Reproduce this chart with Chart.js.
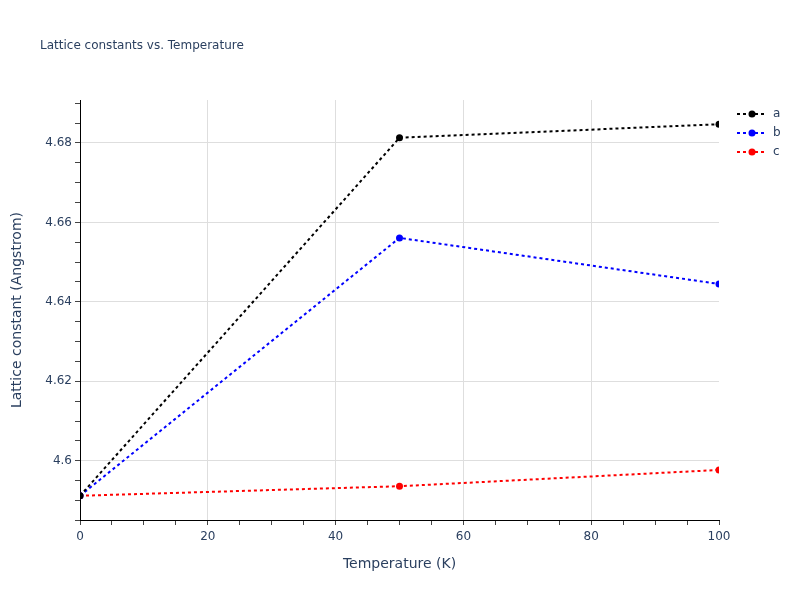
<!DOCTYPE html>
<html>
<head>
<meta charset="utf-8">
<script src="https://cdn.jsdelivr.net/npm/chart.js@4"></script>
<style>
  html, body { margin: 0; padding: 0; background: #fff; }
  canvas { display: block; }
</style>
</head>
<body>
<canvas id="chart" width="800" height="600"></canvas>
<script>
  const temperatures = [0, 50, 100];
  const latticeA = [4.5912, 4.6813, 4.6847];
  const latticeB = [4.5912, 4.6561, 4.6445];
  const latticeC = [4.5912, 4.5936, 4.5977];
  const seriesNames = ["a", "b", "c"];
  const seriesColors = ["#000000", "#0000ff", "#ff0000"];

  const xMajorTicks = [0, 20, 40, 60, 80, 100];
  const yMajorTicks = [4.6, 4.62, 4.64, 4.66, 4.68];

  const ink = "#2a3f5f";
  const fontFamily = "'DejaVu Sans', Verdana, sans-serif";

  function isMajor(list, v) {
    return list.some(function(m) { return Math.abs(m - v) < 1e-6; });
  }

  function makeDataset(name, values, color) {
    return {
      label: name,
      data: temperatures.map(function(t, i) { return { x: t, y: values[i] }; }),
      borderColor: color,
      backgroundColor: color,
      borderWidth: 2,
      borderDash: [3, 3],
      pointRadius: 3.5,
      pointBorderWidth: 0,
      pointBackgroundColor: color,
      tension: 0
    };
  }

  // title + legend drawn in the margins, plotly style
  const decorations = {
    id: "decorations",
    afterDraw: function(chart) {
      const ctx = chart.ctx;
      ctx.save();
      ctx.fillStyle = ink;
      ctx.font = "12px " + fontFamily;
      ctx.textBaseline = "middle";
      ctx.textAlign = "left";
      ctx.fillText("Lattice constants vs. Temperature", 40, 46);

      chart.data.datasets.forEach(function(ds, i) {
        const y = 114 + i * 19;
        ctx.strokeStyle = ds.borderColor;
        ctx.lineWidth = 2;
        ctx.setLineDash([3, 3]);
        ctx.beginPath();
        ctx.moveTo(737, y);
        ctx.lineTo(767, y);
        ctx.stroke();
        ctx.setLineDash([]);
        ctx.fillStyle = ds.borderColor;
        ctx.beginPath();
        ctx.arc(752, y, 3.5, 0, Math.PI * 2);
        ctx.fill();
        ctx.fillStyle = ink;
        ctx.font = "12px " + fontFamily;
        ctx.fillText(ds.label, 773, y);
      });
      ctx.restore();
    }
  };

  new Chart(document.getElementById("chart"), {
    type: "line",
    data: {
      datasets: [
        makeDataset(seriesNames[0], latticeA, seriesColors[0]),
        makeDataset(seriesNames[1], latticeB, seriesColors[1]),
        makeDataset(seriesNames[2], latticeC, seriesColors[2])
      ]
    },
    plugins: [decorations],
    options: {
      responsive: false,
      animation: false,
      layout: { padding: { top: 100, right: 81, left: 0, bottom: 0 } },
      plugins: {
        legend: { display: false },
        title: { display: false },
        tooltip: { enabled: false }
      },
      scales: {
        x: {
          type: "linear",
          min: 0,
          max: 100,
          afterFit: function(s) { s.height = 80; },
          afterBuildTicks: function(s) {
            const t = [];
            for (let v = 0; v <= 100; v += 5) t.push({ value: v });
            s.ticks = t;
          },
          border: { display: true, color: "#000", width: 1 },
          grid: {
            color: function(c) {
              const v = c.tick ? c.tick.value : null;
              return v !== null && isMajor(xMajorTicks, v) && v !== 0 && v !== 100 ? "#dedede" : "rgba(0,0,0,0)";
            },
            tickColor: "#444",
            tickLength: 5,
            drawTicks: true
          },
          ticks: {
            autoSkip: false,
            maxRotation: 0,
            color: ink,
            padding: 5,
            font: { family: fontFamily, size: 12 },
            callback: function(v) { return isMajor(xMajorTicks, v) ? String(v) : ""; }
          },
          title: {
            display: true,
            text: "Temperature (K)",
            color: ink,
            font: { family: fontFamily, size: 14 },
            padding: { top: 0, bottom: 27 }
          }
        },
        y: {
          type: "linear",
          min: 4.5851,
          max: 4.6908,
          afterFit: function(s) { s.width = 80; },
          afterBuildTicks: function(s) {
            const t = [];
            for (let k = 917; k <= 938; k++) t.push({ value: k * 0.005 });
            s.ticks = t;
          },
          border: { display: true, color: "#000", width: 1 },
          grid: {
            color: function(c) {
              const v = c.tick ? c.tick.value : null;
              return v !== null && isMajor(yMajorTicks, v) ? "#dedede" : "rgba(0,0,0,0)";
            },
            tickColor: "#444",
            tickLength: 5,
            drawTicks: true
          },
          ticks: {
            autoSkip: false,
            color: ink,
            padding: 3,
            font: { family: fontFamily, size: 12 },
            callback: function(v) {
              return isMajor(yMajorTicks, v) ? String(parseFloat(v.toFixed(2))) : "";
            }
          },
          title: {
            display: true,
            text: "Lattice constant (Angstrom)",
            color: ink,
            font: { family: fontFamily, size: 14 },
            padding: { top: 9, bottom: 0 }
          }
        }
      }
    }
  });
</script>
</body>
</html>
